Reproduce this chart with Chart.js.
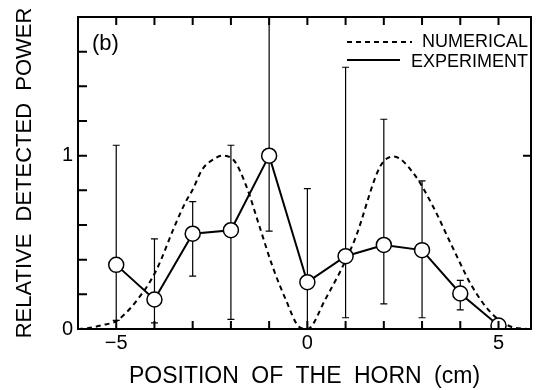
<!DOCTYPE html>
<html>
<head>
<meta charset="utf-8">
<script src="https://cdn.jsdelivr.net/npm/chart.js@4.4.1/dist/chart.umd.min.js"></script>
<style>
  html, body { margin: 0; padding: 0; background: #fff; }
  #wrap { width: 540px; height: 390px; position: relative; }
</style>
</head>
<body>
<div id="wrap"><canvas id="chart"></canvas></div>
<script>
// horn positions (cm) and measured power
const positions = [-5, -4, -3, -2, -1, 0, 1, 2, 3, 4, 5];
const experiment = [0.37, 0.17, 0.55, 0.57, 1.0, 0.27, 0.42, 0.485, 0.455, 0.205, 0.02];
const errHigh = [1.06, 0.52, 0.735, 1.06, 1.8, 0.81, 1.51, 1.21, 0.855, 0.28, 0.02];
const errLow = [0.05, 0.035, 0.305, 0.055, 0.565, 0.0, 0.065, 0.145, 0.065, 0.11, 0.02];

// numerical curve
const numX = [-6.0, -5.74, -5.35, -4.97, -4.29, -3.95, -3.44, -3.18, -3.01, -2.75, -2.41, -2.24,
              -1.93, -1.59, -1.25, -0.91, -0.56, -0.22, 0.0, 0.46, 1.23, 1.91, 2.26, 2.77,
              3.28, 3.79, 4.31, 4.82, 5.33, 5.76];
const numY = [0.0, 0.005, 0.023, 0.05, 0.215, 0.34, 0.61, 0.735, 0.80, 0.92, 0.985, 1.0,
              0.975, 0.82, 0.59, 0.36, 0.167, 0.013, 0.0, 0.167, 0.51, 0.94, 0.995, 0.90,
              0.71, 0.475, 0.245, 0.09, 0.013, 0.0];

const xTicks = [-5, -4, -3, -2, -1, 0, 1, 2, 3, 4, 5];
const xLabels = [-5, 0, 5];
const yTicks = [0, 0.2, 0.4, 0.6, 0.8, 1.0, 1.2, 1.4, 1.6, 1.8];
const yLabels = [0, 1];

const FONT = "'Liberation Sans', Arial, sans-serif";

// wider word gaps, like the typeset axis titles
const spacing = {
    id: 'spacing',
    beforeDraw(chart) {
        chart.ctx.wordSpacing = '6px';
    }
};

const errorBars = {
    id: 'errorBars',
    beforeDatasetsDraw(chart) {
        const ctx = chart.ctx;
        const xs = chart.scales.x, ys = chart.scales.y;
        ctx.save();
        ctx.strokeStyle = '#000';
        ctx.lineWidth = 1.2;
        positions.forEach((p, i) => {
            const px = xs.getPixelForValue(p);
            const top = ys.getPixelForValue(errHigh[i]);
            const bot = ys.getPixelForValue(errLow[i]);
            ctx.beginPath();
            ctx.moveTo(px, top); ctx.lineTo(px, bot);
            ctx.moveTo(px - 3.5, top); ctx.lineTo(px + 3.5, top);
            ctx.moveTo(px - 3.5, bot); ctx.lineTo(px + 3.5, bot);
            ctx.stroke();
        });
        ctx.restore();
    }
};

const frame = {
    id: 'frame',
    afterDraw(chart) {
        const ctx = chart.ctx;
        const a = chart.chartArea;
        const xs = chart.scales.x, ys = chart.scales.y;
        ctx.save();
        ctx.wordSpacing = '0px';
        ctx.strokeStyle = '#000';
        ctx.lineWidth = 2;
        ctx.strokeRect(a.left, a.top, a.right - a.left, a.bottom - a.top);
        ctx.beginPath();
        xTicks.forEach(v => {
            const px = xs.getPixelForValue(v);
            ctx.moveTo(px, a.bottom); ctx.lineTo(px, a.bottom - 8);
            ctx.moveTo(px, a.top); ctx.lineTo(px, a.top + 8);
        });
        yTicks.forEach(v => {
            const py = ys.getPixelForValue(v);
            ctx.moveTo(a.left, py); ctx.lineTo(a.left + 9, py);
        });
        yLabels.forEach(v => {
            const py = ys.getPixelForValue(v);
            ctx.moveTo(a.right, py); ctx.lineTo(a.right - 8, py);
        });
        ctx.stroke();

        // legend
        ctx.lineWidth = 2;
        ctx.setLineDash([5, 4]);
        ctx.beginPath();
        ctx.moveTo(347, 42); ctx.lineTo(412, 42);
        ctx.stroke();
        ctx.setLineDash([]);
        ctx.beginPath();
        ctx.moveTo(347, 60); ctx.lineTo(400, 60);
        ctx.stroke();
        ctx.fillStyle = '#000';
        ctx.font = '18px ' + FONT;
        ctx.textAlign = 'right';
        ctx.textBaseline = 'middle';
        ctx.fillText('NUMERICAL', 528, 42);
        ctx.fillText('EXPERIMENT', 528, 62);
        ctx.textAlign = 'left';
        ctx.font = '22px ' + FONT;
        ctx.fillText('(b)', 92, 44);
        ctx.restore();
    }
};

new Chart(document.getElementById('chart'), {
    type: 'line',
    data: {
        datasets: [{
            label: 'EXPERIMENT',
            data: positions.map((p, i) => ({ x: p, y: experiment[i] })),
            borderColor: '#000',
            borderWidth: 2,
            pointRadius: 7.5,
            pointBorderWidth: 1.5,
            pointBackgroundColor: '#fff',
            pointBorderColor: '#000',
            tension: 0
        }, {
            label: 'NUMERICAL',
            data: numX.map((x, i) => ({ x: x, y: numY[i] })),
            borderColor: '#000',
            borderWidth: 2,
            borderDash: [5, 4],
            pointRadius: 0,
            cubicInterpolationMode: 'monotone'
        }]
    },
    options: {
        responsive: true,
        maintainAspectRatio: false,
        animation: false,
        layout: { padding: { top: 17, right: 0, bottom: 0, left: 0 } },
        plugins: {
            legend: { display: false },
            tooltip: { enabled: false }
        },
        scales: {
            x: {
                type: 'linear',
                min: -6,
                max: 5.85,
                afterFit: s => { s.height = 61; },
                afterBuildTicks: s => { s.ticks = xLabels.map(v => ({ value: v })); },
                grid: { display: false, drawTicks: false },
                border: { display: false },
                ticks: {
                    color: '#000',
                    padding: 2,
                    font: { family: FONT, size: 20 },
                    callback: v => (v < 0 ? '\u2212' + Math.abs(v) : String(v))
                },
                title: {
                    display: true,
                    text: 'POSITION OF THE HORN (cm)',
                    color: '#000',
                    padding: { top: 0, bottom: 0 },
                    font: { family: FONT, size: 23 }
                }
            },
            y: {
                min: 0,
                max: 1.8,
                afterFit: s => { s.width = 78; },
                afterBuildTicks: s => { s.ticks = yLabels.map(v => ({ value: v })); },
                grid: { display: false, drawTicks: false },
                border: { display: false },
                ticks: {
                    color: '#000',
                    padding: 5,
                    font: { family: FONT, size: 20 }
                },
                title: {
                    display: true,
                    text: 'RELATIVE DETECTED POWER',
                    color: '#000',
                    padding: { top: 12, bottom: 0 },
                    font: { family: FONT, size: 22 }
                }
            }
        }
    },
    plugins: [spacing, errorBars, frame]
});
</script>
</body>
</html>
